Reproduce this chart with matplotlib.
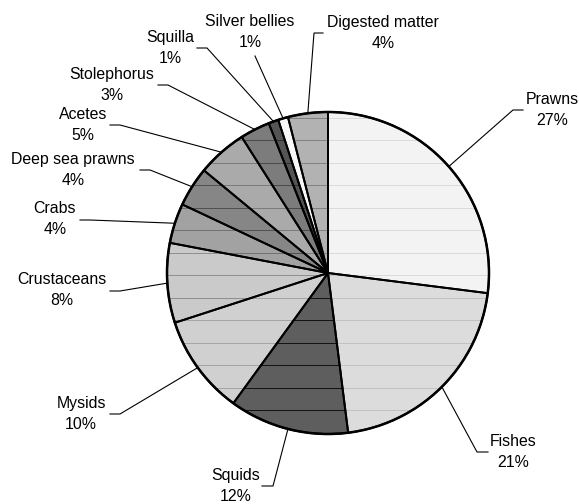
"""
Diet composition pie: share (%) of each prey group, drawn clockwise from
12 o'clock with grey-tone textured wedges and elbow leader lines to the labels.
"""

import numpy as np
import matplotlib
matplotlib.use("Agg")
import matplotlib.pyplot as plt
from matplotlib.patches import Wedge, Circle

WIDTH, HEIGHT = 579, 504

categories = ["Prawns", "Fishes", "Squids", "Mysids", "Crustaceans", "Crabs",
              "Deep sea prawns", "Acetes", "Stolephorus", "Squilla",
              "Silver bellies", "Digested matter"]
percentages = [27, 21, 12, 10, 8, 4, 4, 5, 3, 1, 1, 4]

# fill tone and the darker tone of the horizontal rulings inside each wedge
face_colors = ["#f3f3f3", "#dcdcdc", "#5e5e5e", "#d0d0d0", "#cacaca", "#a2a2a2",
               "#868686", "#aaaaaa", "#7c7c7c", "#545454", "#f8f8f8", "#b2b2b2"]
rule_colors = ["#dadada", "#c2c2c2", "#111111", "#a4a4a4", "#8e8e8e", "#707070",
               "#505050", "#7a7a7a", "#4a4a4a", "#2e2e2e", "#f8f8f8", "#808080"]

# layout in pixels measured from the top-left corner
CENTER = (328, 273)
RADIUS = 161
label_xy = [(552, 110), (513, 452), (236, 486), (81, 414), (62, 290),
            (55, 219), (73, 170), (83, 125), (112, 85), (170, 48),
            (250, 32), (383, 33)]
# (outer end, inner end) of the short horizontal stub next to each label
stub_xy = [((523, 110), (513, 110)), ((488, 452), (477, 452)),
           ((262, 486), (273, 486)), ((110, 414), (120, 414)),
           ((110, 291), (120, 291)), ((80, 220), (90, 220)),
           ((140, 170), (150, 170)), ((110, 125), (120, 125)),
           ((158, 85), (168, 85)), ((197, 48), (207, 48)),
           ((255, 56), (255, 56)), ((323, 33), (314, 33))]
RULE_Y = np.arange(95, 445, 22.5)


def px(x, y):
    """Top-left pixel position -> data coordinates (y up)."""
    return x, HEIGHT - y


def draw_pie(ax):
    cx, cy = px(*CENTER)
    wedges, _ = ax.pie(percentages, startangle=90, counterclock=False,
                       center=(cx, cy), radius=RADIUS, colors=face_colors,
                       wedgeprops=dict(edgecolor="none", linewidth=0))

    for w, rc in zip(wedges, rule_colors):
        rules = ax.hlines(HEIGHT - RULE_Y, cx - RADIUS, cx + RADIUS,
                          colors=rc, linewidth=0.7, zorder=2)
        rules.set_clip_path(w)
        ax.add_patch(Wedge((cx, cy), RADIUS, w.theta1, w.theta2, fill=False,
                           edgecolor="black", linewidth=1.4, zorder=3))
    ax.add_patch(Circle((cx, cy), RADIUS, fill=False, edgecolor="black",
                        linewidth=1.8, zorder=4))
    return wedges, (cx, cy)


def draw_labels(ax, wedges, center):
    cx, cy = center
    for w, name, pct, (tx, ty), (outer, inner) in zip(
            wedges, categories, percentages, label_xy, stub_xy):
        mid = np.deg2rad((w.theta1 + w.theta2) / 2)
        ex, ey = cx + RADIUS * np.cos(mid), cy + RADIUS * np.sin(mid)
        (ox, oy), (ix, iy) = px(*outer), px(*inner)
        ax.plot([ox, ix, ex], [oy, iy, ey], color="black", linewidth=0.8,
                solid_joinstyle="miter", zorder=5)
        x, y = px(tx, ty)
        ax.text(x, y, f"{name}\n{pct}%", ha="center", va="center",
                multialignment="center", fontsize=11.4,
                family="Liberation Sans", linespacing=1.45, zorder=6)


if __name__ == "__main__":
    fig = plt.figure(figsize=(WIDTH / 100, HEIGHT / 100), dpi=100)
    ax = fig.add_axes([0, 0, 1, 1])
    wedges, center = draw_pie(ax)
    draw_labels(ax, wedges, center)
    ax.set_xlim(0, WIDTH)
    ax.set_ylim(0, HEIGHT)
    ax.set_aspect("equal")
    ax.axis("off")
    fig.savefig("out.png", dpi=100, facecolor="white")
    plt.close(fig)
